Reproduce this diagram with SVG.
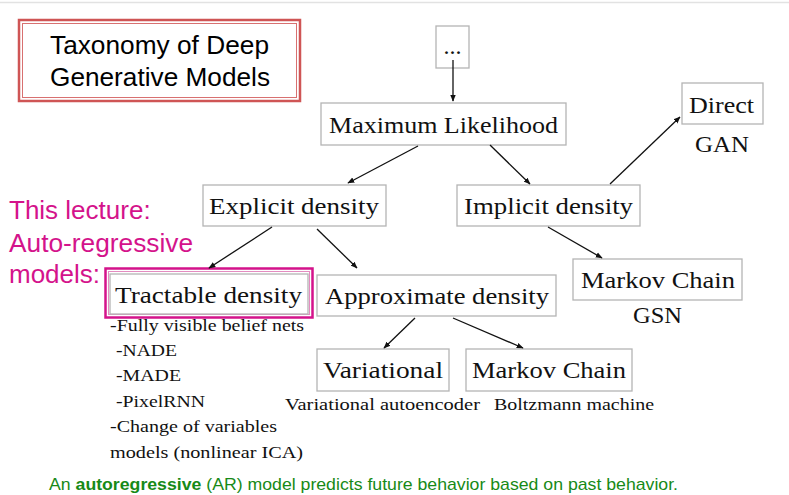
<svg xmlns="http://www.w3.org/2000/svg" width="789" height="495" viewBox="0 0 789 495">
<style>
.bx{fill:#fff;stroke:#b4b4b4;stroke-width:1.3}
.n{font-family:"Liberation Serif","DejaVu Serif",serif;font-size:24px;fill:#111}
.s{font-family:"Liberation Serif","DejaVu Serif",serif;font-size:17px;fill:#111}
.t{font-family:"Liberation Sans",Arial,sans-serif;font-size:26px;fill:#000}
.p{font-family:"Liberation Sans",Arial,sans-serif;font-size:26px;fill:#d4138b}
.g{font-family:"Liberation Sans",Arial,sans-serif;font-size:17px;fill:#178a17}
.c line{stroke:#111;stroke-width:1.3;marker-end:url(#ah)}
</style>
<defs>
<marker id="ah" viewBox="0 0 10 10" refX="9" refY="5" markerWidth="7" markerHeight="7" markerUnits="userSpaceOnUse" orient="auto">
<path d="M0,1 L10,5 L0,9 Z" fill="#111"/>
</marker>
</defs>
<rect width="789" height="495" fill="#fff"/>
<line x1="0" y1="2.5" x2="789" y2="2.5" stroke="#e2e2e2" stroke-width="1.5"/>

<g id="title">
<rect x="19" y="20" width="281" height="81" fill="#fff" stroke="#cf5555" stroke-width="2.5"/>
<rect x="22.5" y="23.5" width="274" height="74" fill="none" stroke="#d87070" stroke-width="1"/>
<text class="t" x="50" y="54" textLength="219" lengthAdjust="spacingAndGlyphs">Taxonomy of Deep</text>
<text class="t" x="50" y="86" textLength="220" lengthAdjust="spacingAndGlyphs">Generative Models</text>
</g>

<g id="dots">
<rect class="bx" x="436" y="26" width="33" height="42"/>
<text class="n" x="452.5" y="54" text-anchor="middle" font-size="20">...</text>
</g>

<g id="ml">
<rect class="bx" x="321" y="103" width="245" height="42"/>
<text class="n" x="329" y="133" textLength="229" lengthAdjust="spacingAndGlyphs">Maximum Likelihood</text>
</g>

<g id="direct">
<rect class="bx" x="682" y="83" width="81" height="41"/>
<text class="n" x="689" y="113" textLength="65" lengthAdjust="spacingAndGlyphs">Direct</text>
<text class="n" x="695" y="152" textLength="54" lengthAdjust="spacingAndGlyphs">GAN</text>
</g>

<g id="explicit">
<rect class="bx" x="203" y="185" width="183" height="41"/>
<text class="n" x="209" y="214" textLength="170" lengthAdjust="spacingAndGlyphs">Explicit density</text>
</g>

<g id="implicit">
<rect class="bx" x="457" y="185" width="183" height="41"/>
<text class="n" x="464" y="214" textLength="169" lengthAdjust="spacingAndGlyphs">Implicit density</text>
</g>

<g id="lecture">
<text class="p" x="9" y="219">This lecture:</text>
<text class="p" x="9" y="252" textLength="184" lengthAdjust="spacingAndGlyphs">Auto-regressive</text>
<text class="p" x="9" y="283">models:</text>
</g>

<g id="tractable">
<rect x="105.5" y="268.5" width="207" height="49" fill="#fff" stroke="#d4138b" stroke-width="2.5"/>
<rect x="108.5" y="271.5" width="201" height="43" fill="none" stroke="#e48cc0" stroke-width="1"/>
<rect class="bx" x="110" y="274" width="198" height="40" fill="none"/>
<text class="n" x="115" y="303" textLength="187" lengthAdjust="spacingAndGlyphs">Tractable density</text>
<text class="s" x="110" y="331" textLength="194" lengthAdjust="spacingAndGlyphs">-Fully visible belief nets</text>
<text class="s" x="116" y="356" textLength="61" lengthAdjust="spacingAndGlyphs">-NADE</text>
<text class="s" x="116" y="381" textLength="65" lengthAdjust="spacingAndGlyphs">-MADE</text>
<text class="s" x="116" y="407" textLength="89" lengthAdjust="spacingAndGlyphs">-PixelRNN</text>
<text class="s" x="110" y="432" textLength="167" lengthAdjust="spacingAndGlyphs">-Change of variables</text>
<text class="s" x="110" y="458" textLength="193" lengthAdjust="spacingAndGlyphs">models (nonlinear ICA)</text>
</g>

<g id="approx">
<rect class="bx" x="317" y="275" width="239" height="41"/>
<text class="n" x="325" y="304" textLength="224" lengthAdjust="spacingAndGlyphs">Approximate density</text>
</g>

<g id="mcgsn">
<rect class="bx" x="573" y="259" width="169" height="41"/>
<text class="n" x="581" y="288" textLength="154" lengthAdjust="spacingAndGlyphs">Markov Chain</text>
<text class="n" x="633" y="323" textLength="49" lengthAdjust="spacingAndGlyphs">GSN</text>
</g>

<g id="variational">
<rect class="bx" x="317" y="349" width="132" height="42"/>
<text class="n" x="323" y="378" textLength="120" lengthAdjust="spacingAndGlyphs">Variational</text>
<text class="s" x="285" y="410" textLength="195" lengthAdjust="spacingAndGlyphs">Variational autoencoder</text>
</g>

<g id="mcbm">
<rect class="bx" x="466" y="349" width="166" height="42"/>
<text class="n" x="472" y="378" textLength="154" lengthAdjust="spacingAndGlyphs">Markov Chain</text>
<text class="s" x="494" y="410" textLength="160" lengthAdjust="spacingAndGlyphs">Boltzmann machine</text>
</g>

<g class="c" id="connectors">
<line x1="453" y1="60" x2="453" y2="101"/>
<line x1="418" y1="146" x2="348" y2="183"/>
<line x1="490" y1="145" x2="530" y2="184"/>
<line x1="610" y1="184" x2="680" y2="117"/>
<line x1="272" y1="227" x2="209" y2="268"/>
<line x1="317" y1="229" x2="357" y2="268"/>
<line x1="548" y1="227" x2="602" y2="258"/>
<line x1="415" y1="318" x2="384" y2="348"/>
<line x1="453" y1="318" x2="523" y2="348"/>
</g>

<g id="footer">
<text class="g" x="49" y="490" textLength="629" lengthAdjust="spacingAndGlyphs">An <tspan font-weight="bold">autoregressive</tspan> (AR) model predicts future behavior based on past behavior.</text>
</g>
</svg>
